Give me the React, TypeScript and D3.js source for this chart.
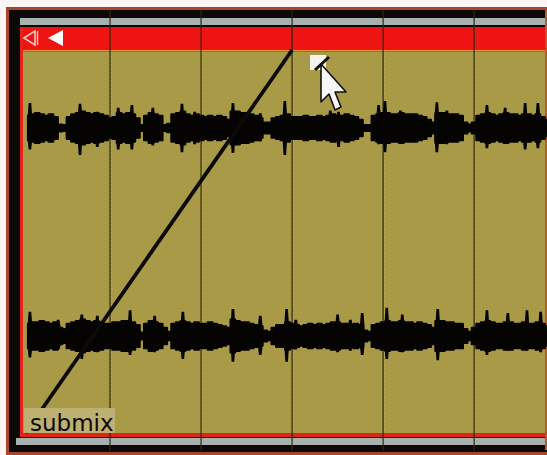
import React from 'react';
import * as d3 from 'd3';

// bar grid of the region (bars 1..5 are marked)
const barLines = [1, 2, 3, 4, 5];

// waveform envelope, one sample every 0.05 bar starting at bar 0.10
const envStart = 0.1;
const envStep = 0.05;
const topEnvelope = [
  0.45, 0.5, 0.55, 0.5, 0.45, 0.5, 0.4, 0.12, 0.1, 0.4, 0.5, 0.55, 0.6, 0.55, 0.5, 0.55, 0.5, 0.45, 0.35, 0.4,
  0.55, 0.5, 0.55, 0.5, 0.35, 0.1, 0.45, 0.55, 0.5, 0.45, 0.1, 0.15, 0.5, 0.55, 0.6, 0.5, 0.45, 0.5, 0.45, 0.4,
  0.45, 0.4, 0.45, 0.4, 0.3, 0.6, 0.6, 0.55, 0.55, 0.5, 0.45, 0.35, 0.2, 0.2, 0.35, 0.4, 0.45, 0.5, 0.4, 0.4,
  0.4, 0.45, 0.4, 0.4, 0.45, 0.4, 0.45, 0.5, 0.45, 0.45, 0.5, 0.45, 0.4, 0.3, 0.1, 0.1, 0.45, 0.5, 0.55, 0.55,
  0.5, 0.5, 0.55, 0.5, 0.5, 0.5, 0.45, 0.4, 0.3, 0.2, 0.55, 0.55, 0.5, 0.5, 0.5, 0.45, 0.2, 0.12, 0.2, 0.45,
  0.5, 0.55, 0.5, 0.45, 0.5, 0.55, 0.5, 0.5, 0.45, 0.5, 0.5, 0.45, 0.5, 0.4, 0.3,
];
const bottomEnvelope = [
  0.45, 0.5, 0.5, 0.55, 0.5, 0.45, 0.5, 0.3, 0.25, 0.45, 0.5, 0.55, 0.6, 0.55, 0.5, 0.55, 0.5, 0.45, 0.45, 0.5,
  0.5, 0.55, 0.55, 0.5, 0.4, 0.12, 0.45, 0.55, 0.5, 0.45, 0.3, 0.15, 0.45, 0.5, 0.55, 0.5, 0.45, 0.5, 0.45, 0.45,
  0.5, 0.45, 0.4, 0.35, 0.3, 0.6, 0.55, 0.5, 0.5, 0.45, 0.4, 0.35, 0.2, 0.15, 0.3, 0.4, 0.4, 0.5, 0.45, 0.4,
  0.35, 0.4, 0.45, 0.4, 0.45, 0.4, 0.45, 0.5, 0.5, 0.45, 0.45, 0.4, 0.45, 0.4, 0.2, 0.15, 0.4, 0.45, 0.5, 0.55,
  0.5, 0.5, 0.55, 0.5, 0.5, 0.45, 0.5, 0.45, 0.4, 0.3, 0.55, 0.55, 0.5, 0.5, 0.45, 0.45, 0.25, 0.15, 0.3, 0.45,
  0.5, 0.55, 0.5, 0.45, 0.45, 0.5, 0.5, 0.45, 0.45, 0.5, 0.45, 0.45, 0.5, 0.45, 0.35,
];

// transient peaks: [bar, up, down]
const topPeaks: [number, number, number][] = [
  [0.12, 0.93, 0.8], [0.67, 0.9, 1.0], [0.86, 0.6, 0.7], [1.09, 0.75, 0.8], [1.24, 0.85, 0.8],
  [1.47, 0.75, 0.65], [1.79, 0.9, 0.9], [1.93, 0.6, 0.6], [2.35, 0.93, 0.93], [2.65, 0.55, 0.5],
  [2.92, 1.0, 1.0], [3.42, 0.65, 0.5], [3.51, 0.6, 0.7], [3.95, 0.85, 0.6], [4.02, 1.0, 0.9],
  [4.19, 0.65, 0.55], [4.59, 0.95, 0.9], [4.7, 0.65, 0.6], [5.14, 0.85, 0.75], [5.34, 0.75, 0.55],
  [5.56, 0.93, 0.8], [5.7, 0.93, 0.75],
];
const bottomPeaks: [number, number, number][] = [
  [0.12, 0.9, 0.8], [0.43, 0.6, 0.5], [0.69, 0.8, 0.85], [0.86, 0.75, 0.6], [1.22, 0.95, 0.7],
  [1.49, 0.75, 0.6], [1.8, 0.9, 0.85], [2.35, 1.0, 0.95], [2.65, 0.75, 0.7], [2.94, 1.0, 0.95],
  [3.04, 0.6, 0.5], [3.5, 0.8, 0.6], [3.64, 0.6, 0.55], [3.77, 0.85, 0.7], [4.04, 1.05, 0.85],
  [4.21, 0.8, 0.6], [4.6, 1.0, 0.9], [5.14, 0.95, 0.7], [5.37, 0.85, 0.55], [5.58, 0.95, 0.55],
  [5.73, 0.9, 0.6],
];

// fade-in: [bar, gain]
const fadePoints: [number, number][] = [
  [0.07, 0],
  [3.0, 1],
];

const regionName = 'submix';

const W = 547;
const H = 455;
const olive = '#a99a48';

function Track({ env, peaks, center, x }: { env: number[]; peaks: [number, number, number][]; center: number; x: d3.ScaleLinear<number, number> }) {
  const amp = d3.scaleLinear().domain([-1, 1]).range([center + 27, center - 27]);
  const pts = env.map((a, i) => ({ b: envStart + i * envStep, a }));
  const area = d3
    .area<{ b: number; a: number }>()
    .x((d) => x(d.b))
    .y0((d) => amp(-d.a))
    .y1((d) => amp(d.a))
    .curve(d3.curveStep);
  return (
    <g fill="#050403">
      <path d={area(pts) || ''} stroke="#050403" strokeWidth={2.4} strokeLinejoin="round" />
      {peaks.map(([b, up, down], i) => {
        const cx = x(b);
        return (
          <path
            key={i}
            d={`M${cx - 2.4},${amp(0.35)} L${cx - 1.3},${amp(up)} L${cx + 1.3},${amp(up)} L${cx + 2.4},${amp(0.35)} L${cx + 2.4},${amp(-0.35)} L${cx + 1.3},${amp(-down)} L${cx - 1.3},${amp(-down)} L${cx - 2.4},${amp(-0.35)} Z`}
          />
        );
      })}
    </g>
  );
}

export default function App() {
  const x = d3.scaleLinear().domain([0, 5.8]).range([19, 547]);
  const gain = d3.scaleLinear().domain([0, 1]).range([433, 50]);
  const fadeLine = d3
    .line<[number, number]>()
    .x((d) => x(d[0]))
    .y((d) => gain(d[1]));

  return (
    <svg width={W} height={H} style={{ position: 'absolute', left: 0, top: 0 }}>
      <rect width={W} height={H} fill="#fbf6f4" />
      {/* outer frame */}
      <rect x={6} y={7} width={W - 6} height={H - 7} fill="#a8472e" />
      <rect x={9} y={10} width={W - 9} height={442} fill="#0c0a08" />
      {/* top gray strip */}
      <rect x={20} y={18} width={W - 20} height={7} fill="#a9b1b0" />
      {/* red header */}
      <rect x={20} y={27} width={W - 22} height={24} fill="#ef1414" />
      <rect x={20} y={50} width={W - 22} height={1.5} fill="#e8913a" />
      {/* body */}
      <rect x={20} y={51.5} width={W - 22} height={382} fill={olive} />
      <rect x={20} y={27} width={3} height={410} fill="#e2231a" />
      <rect x={20} y={433} width={W - 22} height={4} fill="#e2231a" />
      <rect x={16} y={438} width={W - 16} height={7} fill="#a9b1b0" />
      <rect x={W - 2} y={10} width={2} height={440} fill="#b9582f" />

      {/* bar lines */}
      {barLines.map((b) => (
        <g key={b}>
          <line x1={x(b)} x2={x(b)} y1={10} y2={451} stroke="#2e2a0c" strokeOpacity={0.75} strokeWidth={1.6} />
          <line x1={x(b) + 1.3} x2={x(b) + 1.3} y1={52} y2={432} stroke="#d6c65a" strokeOpacity={0.5} strokeWidth={0.8} strokeDasharray="1.5 2.5" />
        </g>
      ))}

      {/* header icons */}
      <path d="M24,38 L35,31 L35,45 Z" fill="none" stroke="#f7c4c0" strokeWidth={1.6} />
      <line x1={37.5} x2={37.5} y1={31} y2={45} stroke="#f7c4c0" strokeWidth={1.4} />
      <path d="M48,38 L63,30 L63,46 Z" fill="#ffffff" />

      <Track env={topEnvelope} peaks={topPeaks} center={128} x={x} />
      <Track env={bottomEnvelope} peaks={bottomPeaks} center={336} x={x} />

      {/* fade line */}
      <path d={fadeLine(fadePoints) || ''} fill="none" stroke="#0b0a06" strokeWidth={3.8} />

      {/* fade handle + pointer */}
      <rect x={310} y={55} width={16} height={15} fill="#f4f3ee" />
      <line x1={315} y1={70} x2={329} y2={57} stroke="#111" strokeWidth={3} />
      <path
        d="M321,64 L321,102 L329,94 L335,110 L341,107 L335,92 L346,92 Z"
        fill="#f7f7f5"
        stroke="#111"
        strokeWidth={1.6}
        strokeLinejoin="round"
      />

      {/* region label */}
      <rect x={24} y={408} width={91} height={25} fill="#bdb072" />
      <text x={30} y={431} fontFamily="DejaVu Sans" fontSize={23} fill="#0c0a06">
        {regionName}
      </text>
    </svg>
  );
}
